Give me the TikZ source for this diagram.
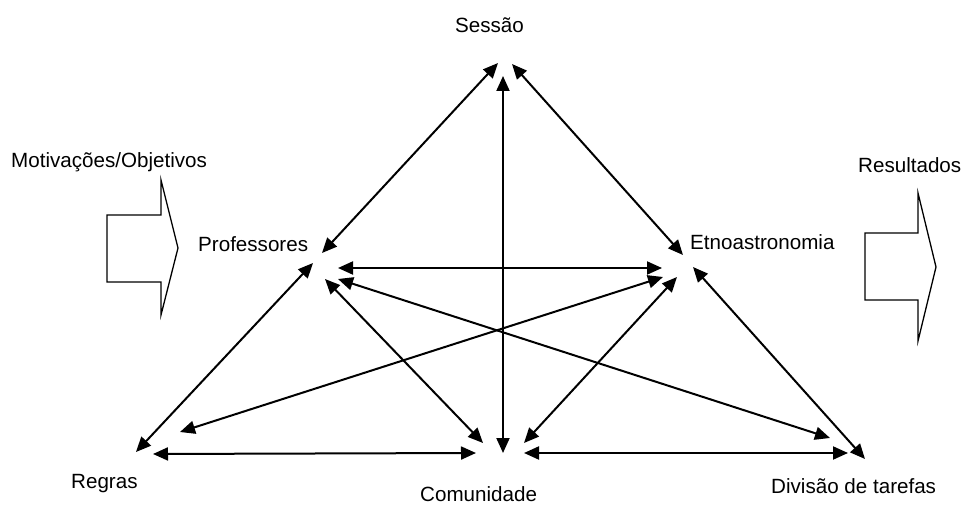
\documentclass[tikz,border=0pt]{standalone}
\usepackage{fontspec}
\setmainfont{Liberation Sans}
\usetikzlibrary{arrows.meta}
\begin{document}
\begin{tikzpicture}[x=1pt,y=-1pt,
  lbl/.style={anchor=base west,inner sep=0pt,font=\fontsize{20.6}{24}\selectfont},
  link/.style={line width=2pt,{Triangle[length=15pt,width=13pt]}-{Triangle[length=15pt,width=13pt]},shorten <=0pt,shorten >=0pt},
  blockarrow/.style={draw,line width=1.3pt,fill=white,line join=miter}]
\useasboundingbox (0,0) rectangle (964,505);

% labels of the activity system
\node[lbl] (sessao) at (455,33) {Sessão};
\node[lbl] (motiv) at (11,167.5) {Motivações/Objetivos};
\node[lbl] (prof) at (198,251.5) {Professores};
\node[lbl] (etno) at (690,249.5) {Etnoastronomia};
\node[lbl] (result) at (858,173) {Resultados};
\node[lbl] (regras) at (71,488) {Regras};
\node[lbl] (comun) at (420,501.5) {Comunidade};
\node[lbl] (divisao) at (771,493) {Divisão de tarefas};

% arrow ends around each label
\coordinate (sL) at (498,63);
\coordinate (sM) at (503,76);
\coordinate (sR) at (512,64);
\coordinate (pS) at (322,253);
\coordinate (pR) at (313,263);
\coordinate (pE) at (338,268);
\coordinate (pD) at (338,279);
\coordinate (pC) at (325,279);
\coordinate (eS) at (683,255);
\coordinate (eP) at (662,268);
\coordinate (eR) at (663,277);
\coordinate (eC) at (677,277);
\coordinate (eD) at (693,267);
\coordinate (rP) at (136,452);
\coordinate (rE) at (180,432);
\coordinate (rC) at (153,454);
\coordinate (cP) at (483,443);
\coordinate (cS) at (503,453);
\coordinate (cE) at (524,443);
\coordinate (cR) at (476,453);
\coordinate (cD) at (524,453);
\coordinate (dP) at (830,438);
\coordinate (dC) at (848,453);
\coordinate (dE) at (865,459);

% two-way relations
\draw[link] (pS) -- (sL);
\draw[link] (sM) -- (cS);
\draw[link] (sR) -- (eS);
\draw[link] (pE) -- (eP);
\draw[link] (pR) -- (rP);
\draw[link] (pD) -- (dP);
\draw[link] (pC) -- (cP);
\draw[link] (eR) -- (rE);
\draw[link] (eC) -- (cE);
\draw[link] (eD) -- (dE);
\draw[link] (rC) -- (cR);
\draw[link] (cD) -- (dC);

% input and output block arrows
\draw[blockarrow] (107,215) -- (161,215) -- (161,180) -- (178,248) -- (161,315) -- (161,282) -- (107,282) -- cycle;
\draw[blockarrow] (865,233) -- (918,233) -- (918,193) -- (936,267) -- (918,341) -- (918,300) -- (865,300) -- cycle;
\end{tikzpicture}
\end{document}
